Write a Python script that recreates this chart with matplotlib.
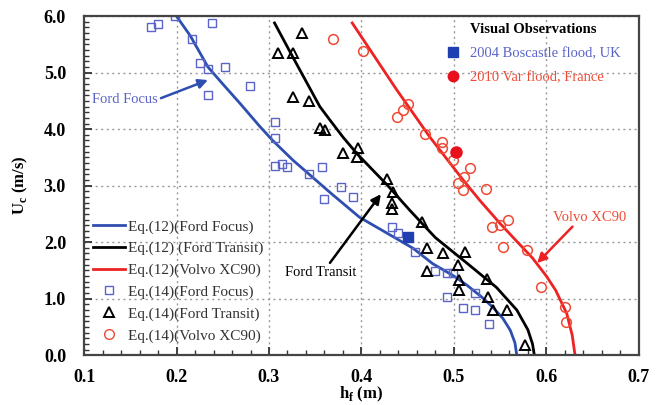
import numpy as np
import matplotlib
matplotlib.use('Agg')
import matplotlib.pyplot as plt
from matplotlib.lines import Line2D
from matplotlib.ticker import MultipleLocator

plt.rcParams['font.family'] = ['Liberation Serif', 'DejaVu Serif']

# Eq.(12) curves
focus_line_x = [0.200, 0.215, 0.234, 0.250, 0.269, 0.290, 0.304, 0.326, 0.345, 0.366, 0.398, 0.434, 0.456,
                0.477, 0.500, 0.514, 0.530, 0.542, 0.553, 0.561, 0.566, 0.568]
focus_line_y = [6.00, 5.65, 5.10, 4.80, 4.45, 4.05, 3.80, 3.45, 3.18, 2.88, 2.44, 2.10, 1.89,
                1.62, 1.40, 1.24, 1.03, 0.85, 0.65, 0.44, 0.22, 0.00]
transit_line_x = [0.306, 0.326, 0.340, 0.355, 0.366, 0.380, 0.395, 0.412, 0.428, 0.452, 0.480, 0.514,
                  0.546, 0.568, 0.580, 0.585, 0.587]
transit_line_y = [5.88, 5.27, 4.85, 4.40, 4.16, 3.86, 3.57, 3.28, 3.01, 2.57, 2.08, 1.63,
                  1.20, 0.80, 0.45, 0.20, 0.00]
volvo_line_x = [0.390, 0.438, 0.474, 0.510, 0.528, 0.550, 0.570, 0.585, 0.600, 0.610, 0.622, 0.628, 0.631]
volvo_line_y = [5.88, 4.70, 3.86, 3.10, 2.74, 2.33, 1.98, 1.72, 1.40, 1.15, 0.74, 0.35, 0.00]

# Eq.(14) points
focus_pts_x = [0.172, 0.180, 0.198, 0.238, 0.217, 0.225, 0.234, 0.252, 0.279, 0.234, 0.306, 0.306, 0.306,
               0.314, 0.319, 0.343, 0.357, 0.378, 0.359, 0.391, 0.433, 0.440, 0.458, 0.480, 0.492, 0.499,
               0.523, 0.492, 0.510, 0.523, 0.538]
focus_pts_y = [5.81, 5.86, 6.00, 5.88, 5.59, 5.17, 5.06, 5.10, 4.76, 4.60, 4.12, 3.84, 3.35,
               3.38, 3.33, 3.20, 3.33, 2.97, 2.76, 2.80, 2.27, 2.16, 1.82, 1.49, 1.45, 1.45,
               1.10, 1.03, 0.83, 0.80, 0.55]
transit_pts_x = [0.336, 0.310, 0.326, 0.326, 0.343, 0.355, 0.361, 0.380, 0.396, 0.395, 0.428, 0.434,
                 0.433, 0.433, 0.465, 0.471, 0.488, 0.512, 0.504, 0.471, 0.505, 0.505, 0.536, 0.537,
                 0.542, 0.557, 0.577]
transit_pts_y = [5.70, 5.34, 5.34, 4.57, 4.50, 4.02, 3.98, 3.57, 3.66, 3.50, 3.12, 2.88,
                 2.69, 2.58, 2.35, 1.89, 1.80, 1.82, 1.59, 1.49, 1.33, 1.15, 1.35, 1.03,
                 0.80, 0.80, 0.18]
volvo_pts_x = [0.369, 0.402, 0.450, 0.445, 0.438, 0.469, 0.487, 0.487, 0.499, 0.517, 0.511, 0.504,
               0.510, 0.535, 0.558, 0.541, 0.550, 0.553, 0.579, 0.594, 0.620, 0.621]
volvo_pts_y = [5.59, 5.38, 4.44, 4.34, 4.21, 3.91, 3.77, 3.66, 3.45, 3.31, 3.15, 3.04,
               2.92, 2.94, 2.39, 2.27, 2.30, 1.91, 1.86, 1.20, 0.85, 0.58]

# visual observations
boscastle = (0.450, 2.10)
var_flood = (0.502, 3.60)

blue = '#2f4fb0'
blue_pt = '#5a64c8'
red = '#ee2222'
red_pt = '#ee4a35'

fig = plt.figure(figsize=(6.62, 4.05), dpi=100)
ax = fig.add_axes([0.127, 0.123, 0.838, 0.837])

ax.plot(focus_line_x, focus_line_y, color=blue, lw=2.0)
ax.plot(transit_line_x, transit_line_y, color='black', lw=2.0)
ax.plot(volvo_line_x, volvo_line_y, color=red, lw=2.0)
ax.plot(focus_pts_x, focus_pts_y, 's', mfc='none', mec=blue_pt, ms=5.5, mew=1.0)
ax.plot(transit_pts_x, transit_pts_y, '^', mfc='none', mec='black', ms=7.5, mew=1.4)
ax.plot(volvo_pts_x, volvo_pts_y, 'o', mfc='none', mec=red_pt, ms=7, mew=1.1)
ax.plot(*boscastle, 's', color='#1f3fb0', ms=7)
ax.plot(*var_flood, 'o', color='#e8101a', ms=8)

ax.set_xlim(0.1, 0.7)
ax.set_ylim(0, 6)
ax.xaxis.set_major_locator(MultipleLocator(0.1))
ax.xaxis.set_minor_locator(MultipleLocator(0.02))
ax.yaxis.set_major_locator(MultipleLocator(1.0))
ax.yaxis.set_minor_locator(MultipleLocator(0.1))
ax.xaxis.set_major_formatter(matplotlib.ticker.FormatStrFormatter('%.1f'))
ax.yaxis.set_major_formatter(matplotlib.ticker.FormatStrFormatter('%.1f'))
ax.tick_params(which='both', direction='in', top=False, right=False, color='#333333')
ax.tick_params(which='major', length=6, width=1.3, labelsize=13)
ax.tick_params(axis='x', which='major', pad=10)
ax.tick_params(axis='y', which='major', pad=13)
ax.tick_params(which='minor', length=3.5, width=1.0)
for lab in ax.get_xticklabels() + ax.get_yticklabels():
    lab.set_fontweight('bold')
ax.grid(True, which='major', ls=(0, (1.5, 2.5)), color='#999999', lw=1.0)
for s in ax.spines.values():
    s.set_linewidth(1.6)
    s.set_color('#444444')

ax.set_xlabel(r'h$_\mathregular{f}$ (m)', fontsize=12, fontweight='bold', labelpad=-1)
ax.set_ylabel(r'U$_\mathregular{c}$ (m/s)', fontsize=12, fontweight='bold', labelpad=10)

# annotations
ax.annotate('Ford Focus', xy=(0.234, 4.87), xytext=(0.109, 4.53), color=blue_pt, fontsize=10.5,
            va='center', ha='left',
            arrowprops=dict(arrowstyle='-|>', color=blue, lw=1.8, mutation_scale=14, shrinkA=0, shrinkB=0,
                            relpos=(1.0, 0.5)))
ax.annotate('Ford Transit', xy=(0.421, 2.85), xytext=(0.356, 1.47), color='black', fontsize=10.5,
            va='center', ha='center',
            arrowprops=dict(arrowstyle='-|>', color='black', lw=1.8, mutation_scale=14, shrinkA=0, shrinkB=0,
                            relpos=(0.6, 1.0)))
ax.annotate('Volvo XC90', xy=(0.590, 1.63), xytext=(0.647, 2.44), color=red_pt, fontsize=10.5,
            va='center', ha='center',
            arrowprops=dict(arrowstyle='-|>', color=red, lw=1.8, mutation_scale=14, shrinkA=0, shrinkB=0,
                            relpos=(0.3, 0.0)))

labels1 = ['Eq.(12)(Ford Focus)', 'Eq.(12) (Ford Transit)', 'Eq.(12)(Volvo XC90)',
           'Eq.(14)(Ford Focus)', 'Eq.(14)(Ford Transit)', 'Eq.(14)(Volvo XC90)']
handles1 = [Line2D([], [], color=blue, lw=2.0),
            Line2D([], [], color='black', lw=2.0),
            Line2D([], [], color=red, lw=2.0),
            Line2D([], [], ls='none', marker='s', mfc='none', mec=blue_pt, ms=5.5),
            Line2D([], [], ls='none', marker='^', mfc='none', mec='black', ms=7, mew=1.4),
            Line2D([], [], ls='none', marker='o', mfc='none', mec=red_pt, ms=7)]
leg1 = ax.legend(handles1, labels1, loc='lower left', bbox_to_anchor=(0.0, 0.01), frameon=False,
                 fontsize=11, handlelength=2.1, handletextpad=0.2, labelspacing=0.52, borderaxespad=0.2)
for t in leg1.get_texts():
    t.set_color('#333333')
ax.add_artist(leg1)

labels2 = ['2004 Boscastle flood, UK', '2010 Var flood, France']
handles2 = [Line2D([], [], ls='none', marker='s', color='#1f3fb0', ms=7.5),
            Line2D([], [], ls='none', marker='o', color='#e8101a', ms=7.5)]
leg2 = ax.legend(handles2, labels2, loc='upper right', bbox_to_anchor=(0.99, 1.02), frameon=False,
                 fontsize=10.5, title='Visual Observations', handlelength=1.0, handletextpad=0.6,
                 labelspacing=0.75, title_fontproperties={'weight': 'bold', 'size': 10.5})
leg2.get_texts()[0].set_color(blue_pt)
leg2.get_texts()[1].set_color(red_pt)

fig.savefig('out.png', dpi=100)
